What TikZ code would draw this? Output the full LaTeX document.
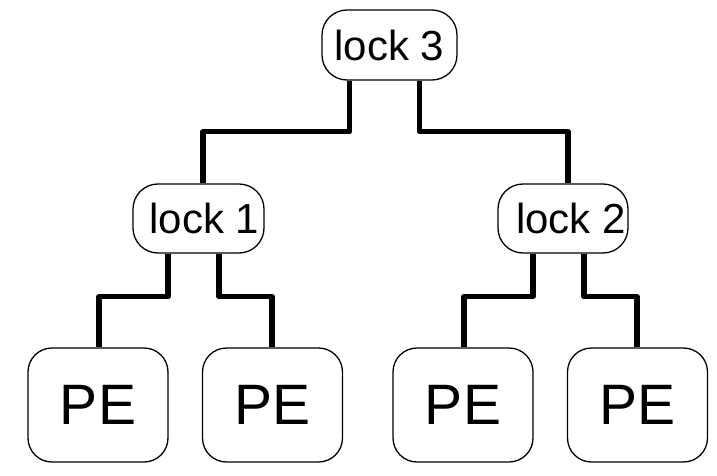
\documentclass[tikz,border=0pt]{standalone}
\usepackage{fontspec}
\setmainfont{Liberation Sans}
\usepackage{tikz}

\begin{document}
\begin{tikzpicture}[x=1pt, y=1pt,
	lock/.style={draw, line width=1.3pt, rounded corners=25pt, minimum width=131pt, minimum height=69pt, inner sep=0pt, font=\fontsize{42}{50}\selectfont},
	pe/.style={draw, line width=1.3pt, rounded corners=24pt, minimum width=140pt, minimum height=114pt, inner sep=0pt, font=\fontsize{57}{66}\selectfont},
	wire/.style={line width=5.2pt, line join=round}]
	\useasboundingbox (0,0) rectangle (717,475);

	%Nodes
	\node[lock, minimum width=135pt, minimum height=70pt] (l3) at (389.5,430) {lock 3};
	\node[lock] (l1) at (198.5,256.5) {\hspace*{12pt}lock 1};
	\node[lock, minimum width=130pt] (l2) at (563,256.5) {\hspace*{16pt}lock 2};
	\node[pe] (p1) at (98,70) {PE};
	\node[pe] (p2) at (272.5,70) {PE};
	\node[pe] (p3) at (463,70) {PE};
	\node[pe] (p4) at (637.5,70) {PE};

	%Wires
	\draw[wire] ([xshift=-40pt]l3.south) -- ++(0,-51) -| ([xshift=4.5pt]l1.north);
	\draw[wire] ([xshift=30pt]l3.south) -- ++(0,-51) -| ([xshift=5pt]l2.north);
	\draw[wire] ([xshift=-30.5pt]l1.south) -- ++(0,-43) -| ([xshift=1pt]p1.north);
	\draw[wire] ([xshift=20.5pt]l1.south) -- ++(0,-43) -| ([xshift=-0.5pt]p2.north);
	\draw[wire] ([xshift=-30pt]l2.south) -- ++(0,-43) -| ([xshift=1pt]p3.north);
	\draw[wire] ([xshift=21pt]l2.south) -- ++(0,-43) -| ([xshift=-0.5pt]p4.north);
\end{tikzpicture}
\end{document}
